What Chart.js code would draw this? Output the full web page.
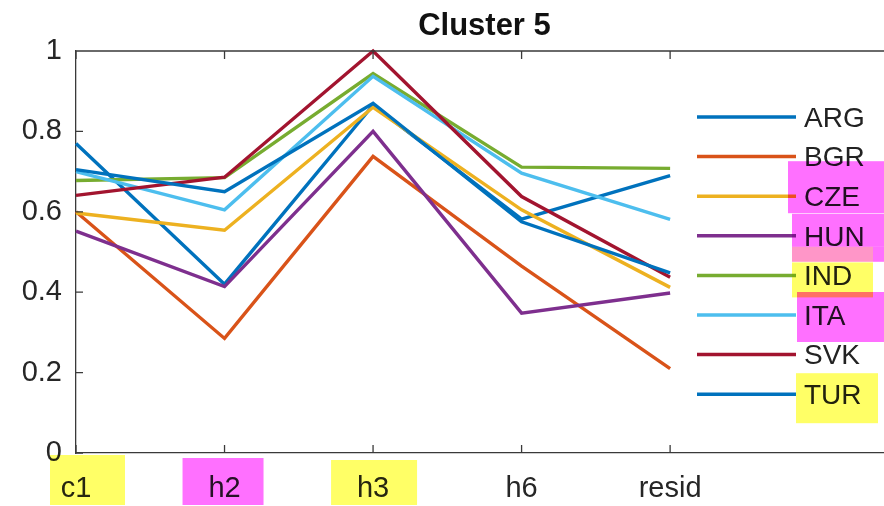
<!DOCTYPE html>
<html>
<head>
<meta charset="utf-8">
<script src="https://cdn.jsdelivr.net/npm/chart.js@4"></script>
<style>
  html, body { margin: 0; padding: 0; background: #fff; }
  #wrap { width: 884px; height: 506px; }
</style>
</head>
<body>
<div id="wrap"><canvas id="chart" width="884" height="506"></canvas></div>
<script>
// categories on the x axis
var categories = ['c1', 'h2', 'h3', 'h6', 'resid'];
var countries = ['ARG', 'BGR', 'CZE', 'HUN', 'IND', 'ITA', 'SVK', 'TUR'];

// values
var ARG = [0.77, 0.42, 0.865, 0.582, 0.69];
var BGR = [0.60, 0.285, 0.738, 0.465, 0.21];
var CZE = [0.597, 0.554, 0.86, 0.605, 0.412];
var HUN = [0.552, 0.414, 0.80, 0.348, 0.398];
var IND = [0.678, 0.685, 0.944, 0.711, 0.708];
var ITA = [0.70, 0.605, 0.937, 0.696, 0.581];
var SVK = [0.641, 0.686, 1.0, 0.638, 0.437];
var TUR = [0.705, 0.65, 0.87, 0.575, 0.448];
var yTicks = [0, 0.2, 0.4, 0.6, 0.8, 1];

var seriesValues = [ARG, BGR, CZE, HUN, IND, ITA, SVK, TUR];
var colors = ['#0072BD', '#D95319', '#EDB120', '#7E2F8E', '#77AC30', '#4DBEEE', '#A2142F', '#0072BD'];

var FONT = '"Liberation Sans", Arial, Helvetica, sans-serif';
var AXIS = '#3a3a3a';

var datasets = seriesValues.map(function (vals, i) {
    return {
        label: countries[i],
        data: vals.map(function (v, j) { return { x: j + 1, y: v }; }),
        borderColor: colors[i],
        backgroundColor: colors[i],
        borderWidth: 3.4,
        pointRadius: 0,
        tension: 0,
        clip: false,
        order: seriesValues.length - i
    };
});

// marker highlights on labels (drawn over the chart)
var highlights = [
    { on: 'x', idx: 0, dx0: -26, dx1: 49, y0: 455, y1: 505, c: 'rgb(255,255,102)' },
    { on: 'x', idx: 1, dx0: -42, dx1: 39, y0: 458, y1: 505, c: 'rgb(255,112,255)' },
    { on: 'x', idx: 2, dx0: -42, dx1: 44, y0: 460, y1: 505, c: 'rgb(255,255,102)' },
    { on: 'legend', idx: 2, dx0: -16, dx1: 80, dy0: -35, dy1: 17, c: 'rgb(255,112,255)' },
    { on: 'legend', idx: 3, dx0: -12, dx1: 80, dy0: -22, dy1: 11, c: 'rgb(255,112,255)' },
    { on: 'legend', idx: 3, dx0: -12, dx1: 69, dy0: 11, dy1: 26, c: 'rgb(255,150,200)', plain: true },
    { on: 'legend', idx: 3, dx0: 69, dx1: 80, dy0: 11, dy1: 26, c: 'rgb(255,112,255)', plain: true },
    { on: 'legend', idx: 4, dx0: -12, dx1: 69, dy0: -13, dy1: 22, c: 'rgb(255,255,102)' },
    { on: 'legend', idx: 5, dx0: -7, dx1: 80, dy0: -23, dy1: 27, c: 'rgb(255,112,255)' },
    { on: 'legend', idx: 7, dx0: -8, dx1: 74, dy0: -21, dy1: 29, c: 'rgb(255,255,102)' }
];

var legendX = 697, legendY = 117, legendStep = 39.6, legendLine = 99;

var matlabLook = {
    id: 'matlabLook',
    afterDraw: function (chart) {
        var c = chart.ctx, a = chart.chartArea;
        var xs = chart.scales.x, ys = chart.scales.y;
        c.save();
        // box + inward ticks
        c.strokeStyle = AXIS;
        c.lineWidth = 1.3;
        c.beginPath();
        c.moveTo(a.left, a.top); c.lineTo(a.right, a.top);
        categories.forEach(function (cat, i) {
            var px = xs.getPixelForValue(i + 1);
            c.moveTo(px, a.bottom); c.lineTo(px, a.bottom - 8);
            c.moveTo(px, a.top); c.lineTo(px, a.top + 8);
        });
        yTicks.forEach(function (v) {
            var py = ys.getPixelForValue(v);
            c.moveTo(a.left, py); c.lineTo(a.left + 7, py);
        });
        c.stroke();

        // title
        c.fillStyle = '#111';
        c.font = 'bold 31px ' + FONT;
        c.textAlign = 'center';
        c.textBaseline = 'alphabetic';
        c.fillText('Cluster 5', xs.getPixelForValue(3.75), 35);

        // legend
        c.font = '28px ' + FONT;
        c.textAlign = 'left';
        c.textBaseline = 'middle';
        chart.data.datasets.forEach(function (ds, i) {
            var y = legendY + i * legendStep;
            c.strokeStyle = ds.borderColor;
            c.lineWidth = 3.5;
            c.beginPath();
            c.moveTo(legendX, y); c.lineTo(legendX + legendLine, y);
            c.stroke();
            c.fillStyle = '#222';
            c.fillText(ds.label, legendX + legendLine + 8, y + 2);
        });

        // highlighter marks
        c.globalCompositeOperation = 'multiply';
        highlights.forEach(function (h) {
            c.fillStyle = h.c;
            if (h.on === 'x') {
                var px = xs.getPixelForValue(h.idx + 1);
                c.fillRect(px + h.dx0, h.y0, h.dx1 - h.dx0, h.y1 - h.y0);
            } else {
                var tx = legendX + legendLine + 8;
                var ty = legendY + h.idx * legendStep;
                c.fillRect(tx + h.dx0, ty + h.dy0, h.dx1 - h.dx0, h.dy1 - h.dy0);
            }
        });
        c.restore();
    }
};

var ctx = document.getElementById('chart').getContext('2d');
var chart = new Chart(ctx, {
    type: 'line',
    data: { datasets: datasets },
    options: {
        responsive: false,
        animation: false,
        layout: { padding: { top: 51, right: 0, left: 0, bottom: 0 } },
        plugins: {
            legend: { display: false },
            title: { display: false },
            tooltip: { enabled: false }
        },
        scales: {
            x: {
                type: 'linear',
                min: 1,
                max: 6.44,
                afterBuildTicks: function (scale) {
                    scale.ticks = categories.map(function (c, i) { return { value: i + 1 }; });
                },
                afterFit: function (scale) { scale.height = 53; },
                ticks: {
                    padding: 19,
                    color: '#262626',
                    font: { family: FONT, size: 29 },
                    maxRotation: 0,
                    callback: function (v) { return categories[v - 1]; }
                },
                grid: { drawOnChartArea: false, drawTicks: false },
                border: { display: true, color: AXIS, width: 1.3 }
            },
            y: {
                min: 0,
                max: 1,
                afterBuildTicks: function (scale) {
                    scale.ticks = yTicks.map(function (v) { return { value: v }; });
                },
                afterFit: function (scale) { scale.width = 76; },
                ticks: {
                    padding: 14,
                    color: '#262626',
                    font: { family: FONT, size: 29 },
                    callback: function (v) { return String(Math.round(v * 10) / 10); }
                },
                grid: { drawOnChartArea: false, drawTicks: false },
                border: { display: true, color: AXIS, width: 1.3 }
            }
        }
    },
    plugins: [matlabLook]
});
</script>
</body>
</html>
